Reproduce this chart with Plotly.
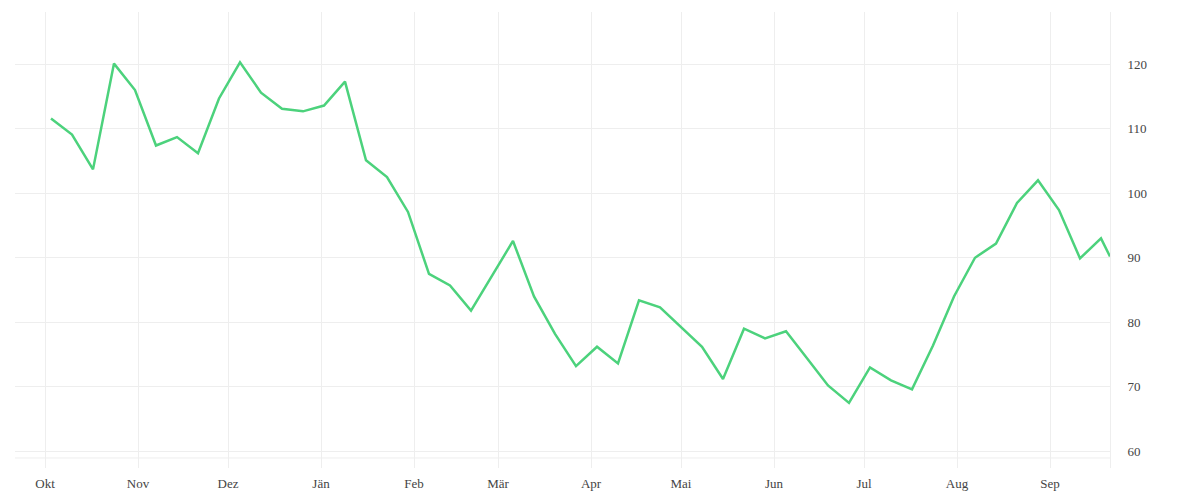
import pandas as pd
import plotly.graph_objects as go

# weekly values, first week starting 2022-10-03, last point a partial week
start = "2022-10-03"
values = [
    111.6, 109.1, 103.7, 120.1, 116.0, 107.4, 108.7, 106.2, 114.7, 120.3,
    115.6, 113.1, 112.7, 113.6, 117.3, 105.1, 102.5, 97.1, 87.5, 85.7,
    81.8, 87.1, 92.6, 84.0, 78.2, 73.2, 76.2, 73.6, 83.4, 82.3,
    79.2, 76.2, 71.2, 79.0, 77.5, 78.6, 74.4, 70.2, 67.5, 73.0,
    71.0, 69.6, 76.4, 84.0, 90.0, 92.2, 98.5, 102.0, 97.4, 89.9,
    93.0,
]
last_date = "2023-09-21"
last_value = 90.2

month_starts = ["2022-10-01", "2022-11-01", "2022-12-01", "2023-01-01",
                "2023-02-01", "2023-03-01", "2023-04-01", "2023-05-01",
                "2023-06-01", "2023-07-01", "2023-08-01", "2023-09-01"]
month_labels = ["Okt", "Nov", "Dez", "Jän", "Feb", "Mär", "Apr", "Mai",
                "Jun", "Jul", "Aug", "Sep"]
y_ticks = [60, 70, 80, 90, 100, 110, 120]

dates = list(pd.date_range(start, periods=len(values), freq="7D")) + [pd.Timestamp(last_date)]
ys = values + [last_value]

grid = "#eeeeee"
font = dict(family="Liberation Serif", size=13, color="#444444")

fig = go.Figure()
fig.add_trace(go.Scatter(
    x=dates, y=ys, mode="lines",
    line=dict(color="#4cd27c", width=2.5),
    hoverinfo="x+y",
))

# page body adds an 8px offset, margins compensate for it
fig.update_layout(
    width=1200, height=500,
    margin=dict(l=7, r=98, t=4, b=40),
    paper_bgcolor="white", plot_bgcolor="white",
    showlegend=False,
    font=font,
    shapes=[dict(type="line", xref="paper", yref="paper",
                 x0=0, x1=1, y0=0.022, y1=0.022,
                 line=dict(color=grid, width=1), layer="below")],
)
fig.update_xaxes(
    range=["2022-09-21", "2023-09-21"],
    tickvals=month_starts, ticktext=month_labels,
    showgrid=True, gridcolor=grid, gridwidth=1,
    zeroline=False, showline=False, ticks="",
    ticklabelstandoff=6,
    tickfont=font,
)
fig.update_yaxes(
    side="right", range=[57.4, 128.1],
    tickvals=y_ticks,
    showgrid=True, gridcolor=grid, gridwidth=1,
    zeroline=False, showline=True, linecolor=grid, linewidth=1,
    ticks="", ticklabelstandoff=14,
    tickfont=font,
)

fig.write_html("out.html")
